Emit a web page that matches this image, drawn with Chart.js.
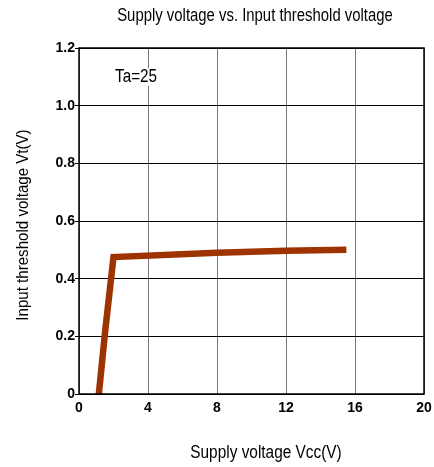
<!DOCTYPE html>
<html>
<head>
<meta charset="utf-8">
<script src="https://cdn.jsdelivr.net/npm/chart.js@4.4.0/dist/chart.umd.min.js"></script>
<style>
html,body{margin:0;padding:0;background:#fff;}
#wrap{width:434px;height:467px;position:relative;}
</style>
</head>
<body>
<div id="wrap"><canvas id="c" width="434" height="467"></canvas></div>
<script>
const supplyVoltage = [1.15, 1.52, 2.0, 8, 12, 15.5];
const thresholdVoltage = [0, 0.22, 0.475, 0.49, 0.497, 0.5];
const xTicks = [0, 4, 8, 12, 16, 20];
const yTicks = [0, 0.2, 0.4, 0.6, 0.8, 1.0, 1.2];
const yTickLabels = ['0', '0.2', '0.4', '0.6', '0.8', '1.0', '1.2'];
const chartTitle = 'Supply voltage vs. Input threshold voltage';
const xTitle = 'Supply voltage Vcc(V)';
const yTitle = 'Input threshold voltage Vt(V)';
const note = 'Ta=25';

const FONT = '"Liberation Sans", Arial, sans-serif';

function stretchedText(ctx, text, x, y, size, sy, align, rot, bg) {
  ctx.save();
  ctx.translate(x, y);
  if (rot) ctx.rotate(rot);
  ctx.scale(1, sy);
  ctx.font = size + 'px ' + FONT;
  ctx.textAlign = align;
  ctx.textBaseline = 'middle';
  if (bg) {
    const w = ctx.measureText(text).width;
    ctx.fillStyle = '#fff';
    ctx.fillRect(-2, -size * 0.5, w + 4, size);
    ctx.fillStyle = '#000';
  }
  ctx.fillText(text, 0, 0);
  ctx.restore();
}

const textPlugin = {
  id: 'texts',
  afterDraw(chart) {
    const {ctx, chartArea: a} = chart;
    ctx.save();
    ctx.fillStyle = '#000';
    stretchedText(ctx, chartTitle, 255, 16, 14.9, 1.2, 'center');
    stretchedText(ctx, xTitle, 266, 453, 15.4, 1.15, 'center');
    stretchedText(ctx, yTitle, 23, 225, 15.1, 1.15, 'center', -Math.PI / 2);
    stretchedText(ctx, note, 115, 77, 15.3, 1.15, 'left', 0, true);
    ctx.strokeStyle = '#000';
    ctx.lineWidth = 1.5;
    ctx.strokeRect(a.left, a.top, a.right - a.left, a.bottom - a.top);
    ctx.restore();
  }
};

new Chart(document.getElementById('c'), {
  type: 'scatter',
  data: {
    datasets: [{
      data: supplyVoltage.map((x, i) => ({x: x, y: thresholdVoltage[i]})),
      showLine: true,
      borderColor: '#9c3300',
      borderWidth: 6.5,
      pointRadius: 0,
      tension: 0,
      borderJoinStyle: 'miter',
      borderCapStyle: 'butt'
    }]
  },
  options: {
    responsive: false,
    animation: false,
    events: [],
    layout: {padding: {top: 48, right: 10, left: 0, bottom: 0}},
    plugins: {legend: {display: false}, tooltip: {enabled: false}, title: {display: false}},
    scales: {
      x: {
        type: 'linear',
        min: 0, max: 20,
        afterBuildTicks(s) { s.ticks = xTicks.map(v => ({value: v})); },
        afterFit(s) { s.height = 73; },
        grid: {color: '#777', lineWidth: 1, tickLength: 4, drawTicks: true, tickColor: 'rgba(0,0,0,0)'},
        border: {display: false},
        ticks: {
          color: '#000',
          font: {family: FONT, size: 14, weight: 'bold'},
          padding: 2,
          maxRotation: 0
        }
      },
      y: {
        type: 'linear',
        min: 0, max: 1.2,
        afterBuildTicks(s) { s.ticks = yTicks.map(v => ({value: v})); },
        afterFit(s) { s.width = 79; },
        grid: {color: '#000', lineWidth: 1, tickLength: 4, drawTicks: true},
        border: {display: false},
        ticks: {
          color: '#000',
          font: {family: FONT, size: 14, weight: 'bold'},
          padding: 0,
          callback(v) { const i = yTicks.findIndex(t => Math.abs(t - v) < 1e-9); return i >= 0 ? yTickLabels[i] : ''; }
        }
      }
    }
  },
  plugins: [textPlugin]
});
</script>
</body>
</html>
